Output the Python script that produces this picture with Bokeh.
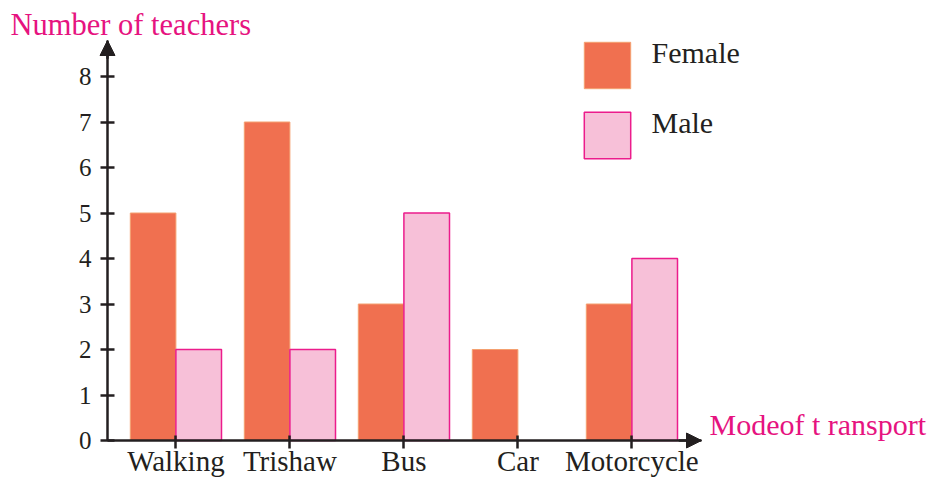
import numpy as np
from bokeh.plotting import figure
from bokeh.models import (ColumnDataSource, Range1d, LinearAxis, FixedTicker, Arrow,
                          NormalHead, Label, Legend, LegendItem)
from bokeh.core.properties import value
from bokeh.embed import file_html
from bokeh.resources import INLINE

# ---- data ----
categories = ["Walking", "Trishaw", "Bus", "Car", "Motorcycle"]
female = [5, 7, 3, 2, 3]
male = [2, 2, 5, 0, 4]
series_names = ["Female", "Male"]
y_ticks = [0, 1, 2, 3, 4, 5, 6, 7, 8]
y_title = "Number of teachers"
x_title = "Modeof t ransport"

# ---- layout (pixels) ----
W, H = 933, 477
X0_PX, PX_X = 175.4, 114.0      # x pixel of first category, px per category
Y0_PX, PX_Y = 440.0, 45.5       # y pixel of value 0, px per unit
def px_x(sx):
    return (sx - X0_PX) / PX_X
def px_y(sy):
    return (Y0_PX - sy) / PX_Y

FONT = "Liberation Serif"
TXT = "#231f20"
PINK = "#e6137f"
F_FILL, F_LINE = "#f07050", "#f4a070"
M_FILL, M_LINE = "#f7c0d8", "#ec1c8c"

p = figure(width=W, height=H, output_backend="svg", toolbar_location=None,
           x_axis_location=None, y_axis_location=None, min_border=0,
           x_range=Range1d(px_x(0), px_x(W)), y_range=Range1d(px_y(H), px_y(0)))
p.outline_line_color = None
p.grid.grid_line_color = None
p.background_fill_color = "white"

idx = np.arange(len(categories))
bw = 0.4
src_f = ColumnDataSource(dict(x=idx - bw / 2, top=female))
mask = np.array(male) > 0
src_m = ColumnDataSource(dict(x=(idx + bw / 2)[mask], top=np.array(male)[mask]))
rf = p.vbar(x="x", top="top", width=bw, bottom=0, source=src_f,
            fill_color=F_FILL, line_color=F_LINE, line_width=1)
rm = p.vbar(x="x", top="top", width=bw, bottom=0, source=src_m,
            fill_color=M_FILL, line_color=M_LINE, line_width=1.5)

x_axis_pos = px_x(107)
x_tip = px_x(701)
y_tip = px_y(40)

yax = LinearAxis(fixed_location=x_axis_pos, bounds=(0, y_tip),
                 ticker=FixedTicker(ticks=y_ticks))
yax.axis_line_color = TXT
yax.axis_line_width = 2.5
yax.major_tick_line_color = TXT
yax.major_tick_line_width = 2.5
yax.major_tick_in = 7
yax.major_tick_out = 7
yax.minor_tick_line_color = None
yax.major_label_standoff = 9
yax.major_label_text_font = FONT
yax.major_label_text_font_size = "25px"
yax.major_label_text_color = TXT
p.add_layout(yax, "left")

xax = LinearAxis(fixed_location=0, bounds=(x_axis_pos, x_tip),
                 ticker=FixedTicker(ticks=list(idx)))
xax.major_label_overrides = {int(i): c for i, c in zip(idx, categories)}
xax.axis_line_color = TXT
xax.axis_line_width = 2.5
xax.major_tick_line_color = TXT
xax.major_tick_line_width = 2.5
xax.major_tick_in = 5
xax.major_tick_out = 8
xax.minor_tick_line_color = None
xax.major_label_standoff = -4
xax.major_label_text_font = FONT
xax.major_label_text_font_size = "29px"
xax.major_label_text_color = TXT
p.add_layout(xax, "below")

head = dict(size=15, fill_color=TXT, line_color=TXT, line_width=1)
p.add_layout(Arrow(end=NormalHead(**head), x_start=x_axis_pos, y_start=y_tip - 0.4,
                   x_end=x_axis_pos, y_end=y_tip, line_color=TXT, line_width=2.5))
p.add_layout(Arrow(end=NormalHead(**head), x_start=x_tip - 0.2, y_start=0,
                   x_end=x_tip, y_end=0, line_color=TXT, line_width=2.5))

p.add_layout(Label(x=px_x(10), y=px_y(24), text=y_title, text_font=FONT,
                   text_font_size="30.5px", text_color=PINK, text_baseline="alphabetic"))
p.add_layout(Label(x=px_x(709), y=px_y(424), text=x_title, text_font=FONT,
                   text_font_size="30px", text_color=PINK, text_baseline="alphabetic"))

# legend swatches (library legend), labels placed as text beside them
legend = Legend(items=[LegendItem(label=value(""), renderers=[rf]),
                       LegendItem(label=value(""), renderers=[rm])],
                location=(578, H - 164), padding=0, margin=0, spacing=12,
                glyph_width=58, glyph_height=58, label_height=58, label_width=0,
                label_standoff=0, label_text_font_size="1px",
                border_line_color=None, background_fill_alpha=0)
p.add_layout(legend)
for name, ty in zip(series_names, [52, 122]):
    p.add_layout(Label(x=px_x(651), y=px_y(ty), text=name, text_font=FONT,
                       text_font_size="30px", text_color=TXT, text_baseline="alphabetic"))

open("out.html", "w").write(file_html(p, INLINE))
